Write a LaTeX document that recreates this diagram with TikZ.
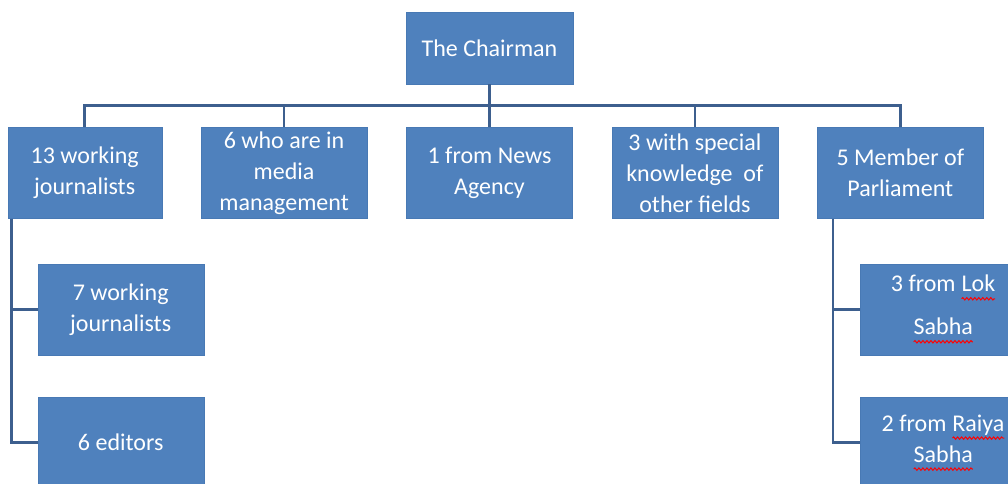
\documentclass[tikz,border=0pt]{standalone}
\usepackage{fontspec}
\setmainfont{Carlito}
\usetikzlibrary{positioning, calc, decorations.pathmorphing}
\definecolor{boxFill}{HTML}{4F81BD}
\definecolor{boxDraw}{HTML}{4879B4}
\definecolor{lineColor}{HTML}{3D5F8E}
% red wavy mark under a word
\newcommand{\spellmark}[1]{\tikz[baseline=(w.base)]{\node(w)[inner sep=0pt, outer sep=0pt,
  minimum size=0pt, draw=none, fill=none]{#1};
  \draw[red, line width=1pt, decorate, decoration={snake, amplitude=1.2pt, segment length=4pt}]
  ([yshift=-7pt]w.base west) -- ([yshift=-7pt]w.base east);}}
\tikzstyle{box}=[rectangle, align=center, fill=boxFill, draw=boxDraw, text=white,
minimum width=166pt, minimum height=91pt, inner sep=0pt, font=\fontsize{24}{31}\selectfont]
\tikzstyle{link}=[line width=2.5pt, draw=lineColor]

\begin{document}
\begin{tikzpicture}[node distance=39pt]
  \useasboundingbox (0,0) rectangle (1008pt,-483pt);
  \clip (0,0) rectangle (1008pt,-483pt);
  \node(chair) [box, minimum width=167pt, minimum height=72pt] at (489.5pt,-48pt) {The Chairman};
  % members row
  \node(news) [box, below=43pt of chair] {1 from News\\Agency};
  \node(media) [box, left=of news] {6 who are in\\media\\management};
  \node(journ) [box, minimum width=154pt, left=of media] {13 working\\journalists};
  \node(other) [box, right=of news] {3 with special\\knowledge \ of\\other fields};
  \node(mps) [box, right=of other] {5 Member of\\Parliament};
  % sub groups
  \node(work) [box, below right=45pt and 30pt of journ.south west] {7 working\\journalists};
  \node(editors) [box, below=42pt of work] {6 editors};
  \node(lok) [box, below right=45pt and 43pt of mps.south west] {3 from \spellmark{Lok}\\[12pt]\spellmark{Sabha}};
  \node(rajya) [box, below=42pt of lok] {2 from \spellmark{Raiya}\\\spellmark{Sabha}};
  % connectors
  \coordinate (bus) at ($(chair.south)!0.5!(news.north)$);
  \draw [link] (chair) -- (news);
  \foreach \n in {journ, media, other, mps}
    \draw [link] (bus) -| (\n.north);
  \draw [link] ([xshift=4pt]journ.south west) |- (work.west);
  \draw [link] ([xshift=4pt]journ.south west) |- (editors.west);
  \draw [link] ([xshift=16pt]mps.south west) |- (lok.west);
  \draw [link] ([xshift=16pt]mps.south west) |- (rajya.west);
\end{tikzpicture}
\end{document}
